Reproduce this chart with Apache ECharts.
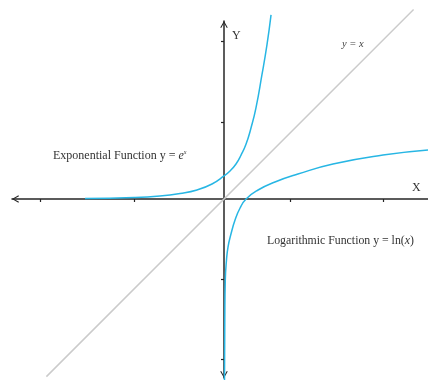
<!DOCTYPE html>
<html>
<head>
<meta charset="utf-8">
<script src="https://cdn.jsdelivr.net/npm/echarts@6/dist/echarts.min.js"></script>
<style>
  html, body { margin: 0; padding: 0; background: #fff; }
  #chart { width: 428px; height: 380px; }
</style>
</head>
<body>
<div id="chart"></div>
<script>
// points (1 unit ~ 24px)
var expX = [-5.79, -3.75, -2.67, -1.83, -1.125, -0.5, 0, 0.25, 0.5, 0.71, 0.92, 1.125, 1.33, 1.58, 1.79, 1.96];
var expY = [0.02, 0.06, 0.125, 0.23, 0.375, 0.625, 0.96, 1.17, 1.46, 1.83, 2.29, 2.96, 3.79, 5.17, 6.42, 7.67];

var lnX = [0.021, 0.033, 0.054, 0.104, 0.167, 0.29, 0.46, 0.67, 0.92, 1.42, 2.125, 3.08, 4.54, 6.625, 8.5];
var lnY = [-7.54, -5.04, -3.38, -2.54, -2.0, -1.46, -0.875, -0.375, 0, 0.375, 0.71, 1.04, 1.46, 1.83, 2.04];

var diagX = [-7.4, 7.9];
var diagY = [-7.4, 7.9];

var xTicks = [-7.67, -3.75, 2.75, 6.63];
var yTicks = [-6.67, -3.33, 3.21, 6.58];

function pairs(xs, ys) {
  return xs.map(function (x, i) { return [x, ys[i]]; });
}

init();

function init() {
  var axisColor = '#262626';
  var curveColor = '#27b6e4';
  var chevron = 'path://M5,0 L10,8.6 L8.8,9.4 L5,2.6 L1.2,9.4 L0,8.6 Z';

  var chart = echarts.init(document.getElementById('chart'));
  chart.setOption({
    animation: false,
    grid: {
      left: 12,
      right: 0,
      top: 21,
      bottom: 2
    },
    xAxis: {
      type: 'value',
      min: -8.833,
      max: 8.5,
      axisLine: {
        onZero: true,
        symbol: [chevron, 'none'],
        symbolSize: [10, 7],
        symbolOffset: [3.5, 0],
        lineStyle: { color: axisColor, width: 1.5 }
      },
      axisTick: {
        show: true,
        customValues: xTicks,
        length: 3,
        lineStyle: { color: axisColor, width: 1.2 }
      },
      axisLabel: { show: false },
      splitLine: { show: false }
    },
    yAxis: {
      type: 'value',
      min: -7.458,
      max: 7.417,
      axisLine: {
        onZero: true,
        symbol: [chevron, chevron],
        symbolSize: [10, 7],
        symbolOffset: [3.5, -3.5],
        lineStyle: { color: axisColor, width: 1.5 }
      },
      axisTick: {
        show: true,
        customValues: yTicks,
        length: 3,
        lineStyle: { color: axisColor, width: 1.2 }
      },
      axisLabel: { show: false },
      splitLine: { show: false }
    },
    graphic: [
      {
        type: 'text', left: 232, top: 30,
        style: { text: 'Y', font: '12px "Liberation Serif"', fill: '#333' }
      },
      {
        type: 'text', left: 412, top: 182,
        style: { text: 'X', font: '12px "Liberation Serif"', fill: '#333' }
      },
      {
        type: 'text', left: 342, top: 39,
        style: { text: 'y = x', font: 'italic 10.5px "Liberation Serif"', fill: '#444' }
      },
      {
        type: 'text', left: 53, top: 149,
        style: {
          text: 'Exponential Function y = {e|e}{sup|x}',
          font: '12px "Liberation Serif"',
          fill: '#333',
          rich: {
            e: { font: 'italic 12px "Liberation Serif"', fill: '#333' },
            sup: { font: 'italic 6px "Liberation Serif"', fill: '#333', verticalAlign: 'top', padding: [0, 0, 7, 0] }
          }
        }
      },
      {
        type: 'text', left: 267, top: 235,
        style: {
          text: 'Logarithmic Function y = ln({i|x})',
          font: '11.8px "Liberation Serif"',
          fill: '#333',
          rich: {
            i: { font: 'italic 11.8px "Liberation Serif"', fill: '#333' }
          }
        }
      }
    ],
    series: [
      {
        name: 'y = x',
        type: 'line',
        data: pairs(diagX, diagY),
        showSymbol: false,
        clip: false,
        z: 1,
        lineStyle: { color: '#cbcbcb', width: 1.5 }
      },
      {
        name: 'y = e^x',
        type: 'line',
        data: pairs(expX, expY),
        smooth: 0.5,
        showSymbol: false,
        clip: false,
        z: 3,
        lineStyle: { color: curveColor, width: 1.5 }
      },
      {
        name: 'y = ln(x)',
        type: 'line',
        data: pairs(lnX, lnY),
        smooth: 0.5,
        showSymbol: false,
        clip: false,
        z: 3,
        lineStyle: { color: curveColor, width: 1.5 }
      }
    ]
  });
}
</script>
</body>
</html>
